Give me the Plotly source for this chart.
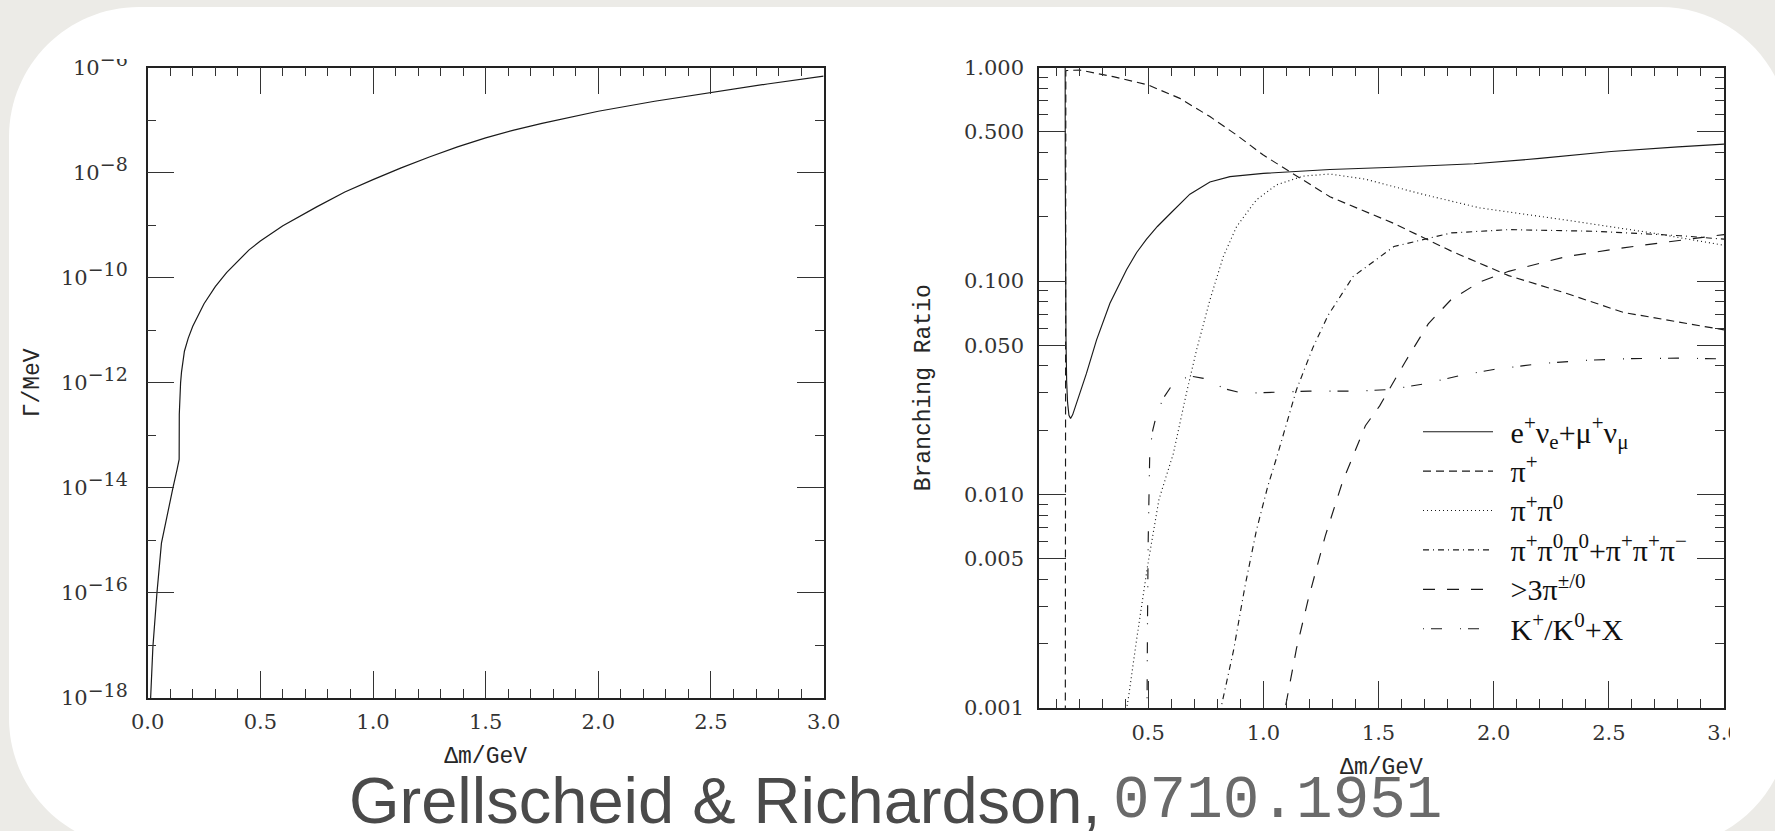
import plotly.graph_objects as go

W, H = 1775, 831

# ---------------- left panel: total width vs mass splitting ----------------
dm_width = [0.010, 0.013, 0.023, 0.041, 0.061, 0.087, 0.112, 0.130, 0.1375, 0.1396,
            0.1402, 0.142, 0.146, 0.150, 0.163, 0.18, 0.20, 0.25, 0.30, 0.35,
            0.40, 0.45, 0.50, 0.60, 0.75, 0.875, 1.0, 1.125, 1.25, 1.375,
            1.5, 1.625, 1.75, 1.875, 2.0, 2.25, 2.5, 2.75, 3.0]
gamma_width = [2.5e-19, 1.0e-18, 9.3e-18, 1.0e-16, 8.9e-16, 3.3e-15, 1.0e-14, 2.2e-14, 3.2e-14, 3.5e-14,
               2.5e-13, 5.0e-13, 1.0e-12, 1.6e-12, 4.0e-12, 7.1e-12, 1.2e-11, 3.2e-11, 6.8e-11, 1.26e-10,
               2.1e-10, 3.4e-10, 5.0e-10, 9.8e-10, 2.24e-09, 4.3e-09, 7.4e-09, 1.24e-08, 2.0e-08, 3.1e-08,
               4.6e-08, 6.5e-08, 8.7e-08, 1.15e-07, 1.48e-07, 2.3e-07, 3.4e-07, 4.9e-07, 6.9e-07]

# ---------------- right panel: branching ratios ----------------
dm_lep = [0.026, 0.1396, 0.1400, 0.141, 0.143, 0.146, 0.150, 0.156, 0.163, 0.172,
          0.189, 0.21, 0.232, 0.276, 0.334, 0.406, 0.45, 0.493, 0.54, 0.594,
          0.681, 0.768, 0.855, 1.0, 1.144, 1.289, 1.567, 1.915, 2.2, 2.51, 2.8, 3.0]
br_lep = [1.0, 1.0, 0.35, 0.12, 0.055, 0.034, 0.027, 0.0235, 0.0227, 0.0236,
          0.0267, 0.031, 0.0369, 0.053, 0.0786, 0.113, 0.136, 0.157, 0.18, 0.206,
          0.255, 0.291, 0.308, 0.319, 0.327, 0.333, 0.341, 0.354, 0.375, 0.404, 0.425, 0.438]

dm_pi = [0.1396, 0.13965, 0.1400, 0.1425, 0.146, 0.203, 0.348, 0.5, 0.6375, 0.768,
         0.8836, 1.0, 1.115, 1.289, 1.567, 1.816, 2.065, 2.313, 2.562, 2.8, 3.0]
br_pi = [1e-4, 0.5, 0.9, 0.962, 0.968, 0.973, 0.906, 0.828, 0.717, 0.589,
         0.483, 0.389, 0.325, 0.248, 0.186, 0.138, 0.106, 0.0877, 0.0713, 0.0645, 0.059]

dm_2pi = [0.40, 0.415, 0.45, 0.497, 0.547, 0.609, 0.666, 0.71, 0.768, 0.826,
          0.884, 0.97, 1.057, 1.173, 1.289, 1.443, 1.69, 1.94, 2.313, 2.687, 3.0]
br_2pi = [0.0009, 0.00113, 0.0021, 0.0046, 0.0095, 0.0155, 0.0298, 0.0475, 0.0815, 0.130,
          0.18, 0.24, 0.282, 0.31, 0.317, 0.30, 0.255, 0.22, 0.193, 0.168, 0.147]

dm_3pi = [0.80, 0.816, 0.871, 0.92, 0.97, 1.02, 1.057, 1.115, 1.144, 1.216,
          1.281, 1.39, 1.567, 1.816, 2.065, 2.44, 2.81, 3.0]
br_3pi = [0.0008, 0.001, 0.00187, 0.0037, 0.0068, 0.011, 0.0148, 0.024, 0.031, 0.049,
          0.069, 0.105, 0.145, 0.168, 0.174, 0.171, 0.163, 0.157]

dm_npi = [1.08, 1.095, 1.144, 1.194, 1.269, 1.343, 1.443, 1.505, 1.617, 1.716,
          1.816, 1.94, 2.065, 2.313, 2.562, 2.8, 3.0]
br_npi = [0.0008, 0.001, 0.0019, 0.0032, 0.0064, 0.0114, 0.021, 0.026, 0.042, 0.063,
          0.082, 0.099, 0.111, 0.13, 0.143, 0.155, 0.165]

dm_k = [0.4935, 0.494, 0.497, 0.500, 0.504, 0.507, 0.52, 0.536, 0.565, 0.609,
        0.65, 0.695, 0.74, 0.78, 0.826, 0.912, 1.0, 1.2, 1.4, 1.55,
        1.7, 1.85, 2.0, 2.2, 2.4, 2.6, 2.8, 3.0]
br_k = [0.0005, 0.001, 0.0025, 0.006, 0.011, 0.016, 0.020, 0.0236, 0.0282, 0.0332,
        0.035, 0.0357, 0.035, 0.0338, 0.0314, 0.0298, 0.030, 0.0305, 0.0305, 0.031,
        0.033, 0.036, 0.0385, 0.041, 0.0425, 0.0433, 0.0435, 0.0432]

channel_names = [
    "e<sup>+</sup>ν<sub>e</sub>+μ<sup>+</sup>ν<sub>μ</sub>",
    "π<sup>+</sup>",
    "π<sup>+</sup>π<sup>0</sup>",
    "π<sup>+</sup>π<sup>0</sup>π<sup>0</sup>+π<sup>+</sup>π<sup>+</sup>π<sup>−</sup>",
    "&gt;3π<sup>±/0</sup>",
    "K<sup>+</sup>/K<sup>0</sup>+X",
]

# ---------------- tick labels ----------------
x_major = [0.0, 0.5, 1.0, 1.5, 2.0, 2.5, 3.0]
x_major_text = ["0.0", "0.5", "1.0", "1.5", "2.0", "2.5", "3.0"]
x_minor = [i / 10 for i in range(1, 30) if i % 5 != 0]

width_ticks = [1e-18, 1e-16, 1e-14, 1e-12, 1e-10, 1e-8, 1e-6]
width_exponents = ["−18", "−16", "−14", "−12", "−10", "−8", "−6"]
width_minor = [1e-17, 1e-15, 1e-13, 1e-11, 1e-9, 1e-7]

br_ticks = [1.0, 0.5, 0.1, 0.05, 0.01, 0.005, 0.001]
br_tick_text = ["1.000", "0.500", "0.100", "0.050", "0.010", "0.005", "0.001"]
br_minor = [m * d for d in (0.1, 0.01, 0.001) for m in (2, 3, 4, 6, 7, 8, 9)]

INK = "#1a1a1a"
SERIF = "DejaVu Serif"
MONO = "Liberation Mono"

# power-of-ten labels with a fairly large exponent
width_tick_text = [f"10<sup><span style='font-size:19px'>{e}</span></sup>" for e in width_exponents]
# legend entries drawn a little larger than the row spacing font
legend_text = [f"\u00a0\u2009<span style='font-size:30px'>{n}</span>" for n in channel_names]

fig = go.Figure()

fig.add_trace(go.Scatter(x=dm_width, y=gamma_width, mode="lines",
                         line=dict(color=INK, width=1.2),
                         xaxis="x", yaxis="y", showlegend=False, hoverinfo="skip"))

styles = ["solid", "8px,5px", "1px,3px", "6px,4px,1px,4px", "12px,12px", "1px,7px,11px,18px"]
series = [(dm_lep, br_lep), (dm_pi, br_pi), (dm_2pi, br_2pi),
          (dm_3pi, br_3pi), (dm_npi, br_npi), (dm_k, br_k)]
for (xs, ys), name, dash in zip(series, legend_text, styles):
    fig.add_trace(go.Scatter(x=xs, y=ys, mode="lines", name=name,
                             line=dict(color=INK, width=1.15, dash=dash),
                             xaxis="x2", yaxis="y2", hoverinfo="skip"))

frame = dict(showline=True, linecolor="#222", linewidth=1.5, mirror="allticks",
             ticks="inside", ticklen=27, tickwidth=1, tickcolor="#333",
             showgrid=False, zeroline=False, automargin=False,
             tickfont=dict(family=SERIF, size=21, color="#333"))
minor = dict(ticks="inside", ticklen=9, tickwidth=1, tickcolor="#333", showgrid=False)
title_font = dict(family=MONO, size=23, color="#262626")

fig.update_layout(
    width=W, height=H,
    margin=dict(l=0, r=0, t=0, b=0, autoexpand=False),
    paper_bgcolor="#ecebe7",
    plot_bgcolor="rgba(0,0,0,0)",
    showlegend=True,
    xaxis=dict(frame, domain=[147.7 / W, 823.6 / W], range=[0, 3], anchor="y",
               tickmode="array", tickvals=x_major, ticktext=x_major_text,
               minor=dict(minor, tickmode="array", tickvals=x_minor),
               ticklabelstandoff=4,
               title=dict(text="Δm/GeV", font=title_font, standoff=14)),
    yaxis=dict(frame, domain=[1 - 698 / H, 1 - 67.7 / H], type="log", range=[-18, -6],
               anchor="x", tickmode="array", tickvals=width_ticks, ticktext=width_tick_text,
               minor=dict(minor, tickmode="array", tickvals=width_minor),
               ticklabelstandoff=14,
               title=dict(text="Γ/MeV", font=title_font, standoff=15)),
    xaxis2=dict(frame, domain=[1039 / W, 1724 / W], range=[0.026, 3.0], anchor="y2",
                tickmode="array", tickvals=x_major[1:], ticktext=x_major_text[1:],
                minor=dict(minor, tickmode="array", tickvals=x_minor),
                ticklabelstandoff=5,
                title=dict(text="Δm/GeV", font=title_font, standoff=14)),
    yaxis2=dict(frame, domain=[1 - 708 / H, 1 - 67.5 / H], type="log", range=[-3, 0],
                anchor="x2", tickmode="array", tickvals=br_ticks, ticktext=br_tick_text,
                minor=dict(minor, tickmode="array", tickvals=br_minor),
                ticklabelstandoff=9,
                title=dict(text="Branching Ratio", font=title_font, standoff=27)),
    legend=dict(x=1418 / W, y=1 - 407 / H, xanchor="left", yanchor="top",
                bgcolor="rgba(0,0,0,0)", borderwidth=0,
                font=dict(family="Liberation Serif", size=28, color="#111"),
                itemwidth=70, tracegroupgap=0, traceorder="normal",
                itemclick=False, itemdoubleclick=False),
)

# white slide panel with rounded corners (pixel coordinates -> paper)
def px(x):
    return x / W


def py(y):
    return 1 - y / H


x0, y0, x1, y1, r = 9, 7, 1790, 848, 130
k = 0.5523 * r
panel = (
    f"M{px(x0 + r)},{py(y0)} L{px(x1 - r)},{py(y0)} "
    f"C{px(x1 - r + k)},{py(y0)} {px(x1)},{py(y0 + r - k)} {px(x1)},{py(y0 + r)} "
    f"L{px(x1)},{py(y1 - r)} "
    f"C{px(x1)},{py(y1 - r + k)} {px(x1 - r + k)},{py(y1)} {px(x1 - r)},{py(y1)} "
    f"L{px(x0 + r)},{py(y1)} "
    f"C{px(x0 + r - k)},{py(y1)} {px(x0)},{py(y1 - r + k)} {px(x0)},{py(y1 - r)} "
    f"L{px(x0)},{py(y0 + r)} "
    f"C{px(x0)},{py(y0 + r - k)} {px(x0 + r - k)},{py(y0)} {px(x0 + r)},{py(y0)} Z"
)
fig.add_shape(type="path", path=panel, xref="paper", yref="paper",
              fillcolor="white", line=dict(width=0), layer="below")

# the embedded figure is cropped at its top and right borders
fig.add_shape(type="rect", xref="paper", yref="paper",
              x0=px(55), x1=px(145), y0=py(40), y1=py(59),
              fillcolor="white", line=dict(width=0), layer="above")
fig.add_shape(type="rect", xref="paper", yref="paper",
              x0=px(1730), x1=px(1775), y0=py(712), y1=py(752),
              fillcolor="white", line=dict(width=0), layer="above")

# citation line under the panels
fig.add_annotation(x=px(347), y=py(800), xref="paper", yref="paper",
                   xanchor="left", yanchor="middle", showarrow=False,
                   text="Grellscheid &amp; Richardson,",
                   font=dict(family="Liberation Sans", size=65, color="#4a4a4a"))
fig.add_annotation(x=px(1111), y=py(800), xref="paper", yref="paper",
                   xanchor="left", yanchor="middle", showarrow=False,
                   text="0710.1951",
                   font=dict(family=MONO, size=61, color="#6a6a6a"))

fig.write_html("out.html")
